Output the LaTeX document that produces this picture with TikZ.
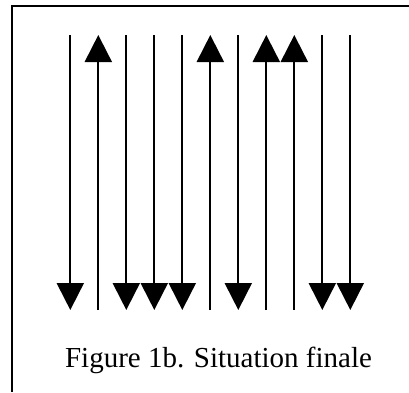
\documentclass[tikz,border=0pt]{standalone}
\usepackage{fontspec}
\setmainfont{Liberation Serif}
\usetikzlibrary{arrows.meta}
\begin{document}
\begin{tikzpicture}[x=1pt,y=-1pt,
  flow/.style={line width=2pt,-{Triangle[width=27pt,length=27pt]}},
  caption/.style={font=\fontsize{29}{34}\selectfont,inner sep=0pt,anchor=base}]
\useasboundingbox (0,0) rectangle (409,392);
% frame (only top and left edges visible)
\coordinate (fbl) at (12,392);
\coordinate (ftl) at (12,6);
\coordinate (ftr) at (409,6);
\draw[line width=2pt] (fbl) -- (ftl) -- (ftr);
% line endpoints
\foreach \i in {1,...,11}{
  \coordinate (t\i) at ({70.3+28*(\i-1)},35);
  \coordinate (b\i) at ({70.3+28*(\i-1)},310);
}
% down arrows
\foreach \i in {1,3,4,5,7,10,11}{ \draw[flow] (t\i) -- (b\i); }
% up arrows
\foreach \i in {2,6,8,9}{ \draw[flow] (b\i) -- (t\i); }
\node[caption] (cap) at (218.5,367) {Figure 1b. Situation finale};
\end{tikzpicture}
\end{document}
